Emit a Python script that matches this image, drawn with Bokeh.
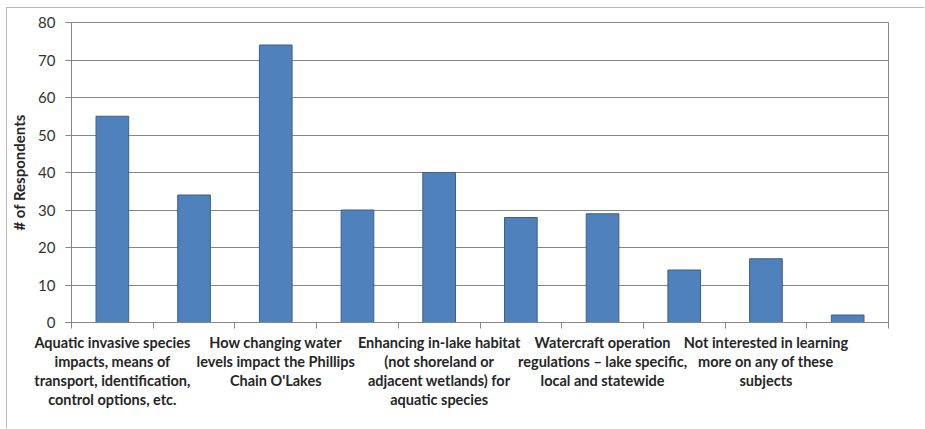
import numpy as np
from bokeh.plotting import figure
from bokeh.models import Range1d, FixedTicker, ColumnDataSource
from bokeh.embed import file_html
from bokeh.resources import INLINE

categories = [
    "Aquatic invasive species\nimpacts, means of\ntransport, identification,\ncontrol options, etc.",
    "",
    "How changing water\nlevels impact the Phillips\nChain O'Lakes",
    "",
    "Enhancing in-lake habitat\n(not shoreland or\nadjacent wetlands) for\naquatic species",
    "",
    "Watercraft operation\nregulations \u2013 lake specific,\nlocal and statewide",
    "",
    "Not interested in learning\nmore on any of these\nsubjects",
    "",
]
respondents = [55, 34, 74, 30, 40, 28, 29, 14, 17, 2]
y_ticks = [0, 10, 20, 30, 40, 50, 60, 70, 80]
y_label = "# of Respondents"

n = len(categories)
xs = np.arange(1, n + 1)
src = ColumnDataSource(dict(x=xs, top=respondents))

p = figure(width=918, height=421, output_backend="svg", toolbar_location=None,
           x_range=Range1d(0.5, n + 0.5), y_range=Range1d(0, 80),
           min_border_left=62, min_border_right=37, min_border_top=14, min_border_bottom=107)
p.styles = {"margin-left": "6px", "margin-top": "7px",
            "border-top": "1px solid #b8b8b8", "border-left": "1px solid #b8b8b8"}

p.vbar(x="x", top="top", width=0.4, source=src, fill_color="#4F81BD",
       line_color="#3C5F8C", line_width=1)

# y axis
p.yaxis.ticker = FixedTicker(ticks=y_ticks, minor_ticks=[])
p.yaxis.axis_label = y_label
p.yaxis.axis_label_text_font = "Lato"
p.yaxis.axis_label_text_font_style = "bold"
p.yaxis.axis_label_text_font_size = "15px"
p.yaxis.axis_label_text_color = "#262626"
p.yaxis.axis_label_standoff = 7
p.yaxis.major_label_text_font = "Lato"
p.yaxis.major_label_text_font_size = "15px"
p.yaxis.major_label_text_color = "#333333"
p.yaxis.major_label_standoff = 10
p.yaxis.major_tick_out = 6
p.yaxis.major_tick_in = 0
p.yaxis.minor_tick_line_color = None
p.yaxis.axis_line_color = "#868686"
p.yaxis.major_tick_line_color = "#868686"

# x axis
label_pos = [float(x) for x, c in zip(xs, categories) if c]
p.xaxis.ticker = FixedTicker(ticks=label_pos,
                             minor_ticks=[float(b) for b in np.arange(0.5, n + 1, 1.0)])
p.xaxis.major_label_overrides = {float(x): c for x, c in zip(xs, categories) if c}
p.xaxis.major_tick_line_color = None
p.xaxis.minor_tick_out = 6
p.xaxis.minor_tick_in = 0
p.xaxis.minor_tick_line_color = "#868686"
p.xaxis.axis_line_color = "#868686"
p.xaxis.major_label_text_font = "Lato"
p.xaxis.major_label_text_font_style = "bold"
p.xaxis.major_label_text_font_size = "14.5px"
p.xaxis.major_label_text_color = "#262626"
p.xaxis.major_label_text_line_height = 1.12
p.xaxis.major_label_standoff = 5

p.xgrid.grid_line_color = None
p.ygrid.ticker = FixedTicker(ticks=y_ticks)
p.ygrid.grid_line_color = "#868686"
p.ygrid.grid_line_width = 1
p.outline_line_color = "#868686"
p.background_fill_color = "white"
p.border_fill_color = "white"

open("out.html", "w").write(file_html(p, INLINE))
